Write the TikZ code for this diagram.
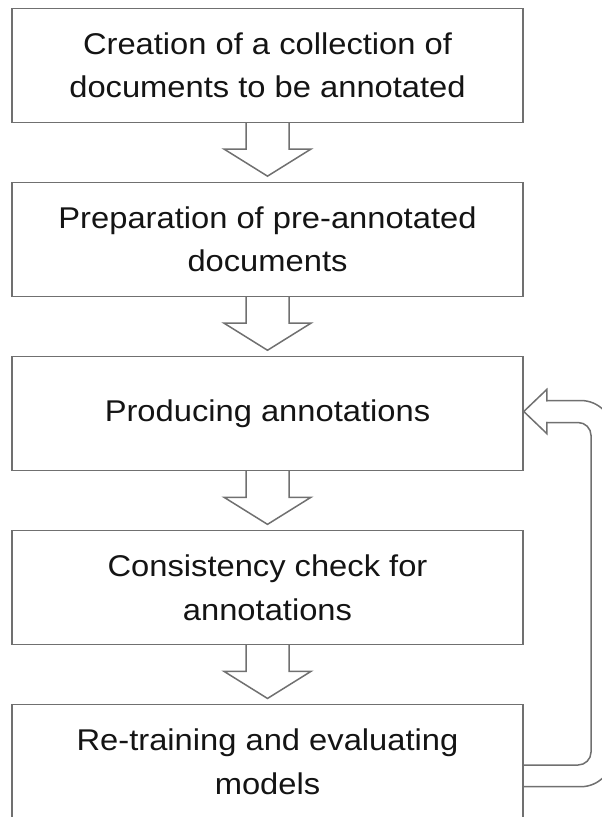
\documentclass[tikz,border=0pt]{standalone}
\usepackage{fontspec}
\setmainfont{Liberation Sans}[FakeStretch=1.09]
\usetikzlibrary{calc}
\definecolor{edge}{RGB}{112,112,112}
\definecolor{ink}{RGB}{20,20,20}
\newcommand{\blockdown}[2]{%
  \draw[arr] ($(#1.south)+(-21.5,0)$) -- ++(0,26) -- ++(-22,0)
    -- ($(#2.north)+(0,-5.5)$) -- ($(#1.south)+(43.5,26)$) -- ++(-22,0) -- ++(0,-26);}
\begin{document}
\begin{tikzpicture}[x=1pt,y=-1pt,
  box/.style={draw=edge, line width=1.5pt, fill=white, minimum width=511pt,
    minimum height=114pt, inner sep=0pt, align=center,
    font=\fontsize{30}{43.5}\selectfont, text=ink},
  arr/.style={draw=edge, line width=1.5pt, line join=miter, line cap=rect}]
\useasboundingbox (0,0) rectangle (602,817);
\node[box] (b1) at (267.5,65.3) {Creation of a collection of\\documents to be annotated};
\node[box] (b2) at (267.5,239.4) {Preparation of pre-annotated\\documents};
\node[box] (b3) at (267.5,413.5) {Producing annotations};
\node[box] (b4) at (267.5,587.6) {Consistency check for\\annotations};
\node[box] (b5) at (267.5,761.7) {Re-training and evaluating\\models};
\blockdown{b1}{b2}
\blockdown{b2}{b3}
\blockdown{b3}{b4}
\blockdown{b4}{b5}
\coordinate (tipc) at ($(b3.east)+(0,-2)$);
\draw[arr, rounded corners=13pt] ($(b5.east)+(0,3.3)$) -- ($(b5.east)+(67.3,3.3)$)
  |- ($(tipc)+(23,11)$);
\draw[arr] ($(tipc)+(23,11)$) -- ($(tipc)+(23,22)$) -- (tipc)
  -- ($(tipc)+(23,-22)$) -- ($(tipc)+(23,-11)$);
\draw[arr, rounded corners=32pt] ($(tipc)+(23,-11)$) -| ($(b5.east)+(89,25)$)
  -- ($(b5.east)+(0,25)$);
\end{tikzpicture}
\end{document}
